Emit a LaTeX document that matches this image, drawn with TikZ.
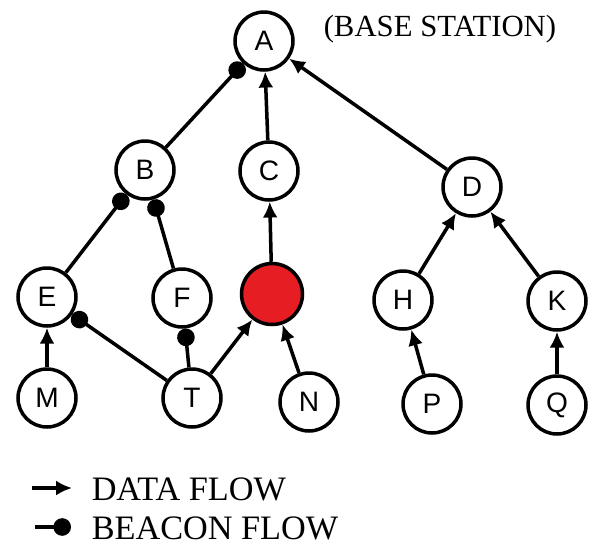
\documentclass[tikz,border=0pt]{standalone}
\usepackage{fontspec}
\setmainfont{Liberation Serif}
\newfontfamily\nodefont{Liberation Sans}
\usetikzlibrary{arrows.meta}
\tikzstyle{every path}=[line width=2pt]
\tikzstyle{station} = [circle, draw, minimum size=1.16cm, inner sep=0pt, font=\nodefont\fontsize{16}{18}\selectfont]
\tikzstyle{data} = [-{Latex[length=9pt,width=8.5pt]}]
\tikzstyle{beacon} = [-{Circle[length=10pt]}]
\tikzstyle{legendtext} = [anchor=west, inner sep=0pt, font=\fontsize{19.5}{22}\selectfont]
\definecolor{intruder}{RGB}{230,30,36}

\begin{document}
\begin{tikzpicture}[x=0.02cm, y=-0.02cm]
            \useasboundingbox (0,0) rectangle (592,545);

            \node[station] (A) at (264, 41) {A};
            \node[anchor=west, inner sep=0pt, font=\fontsize{17.5}{20}\selectfont] (base) at (322, 29) {(BASE STATION)};

            \node[station] (B) at (145, 170) {B};
            \node[station] (C) at (269, 171) {C};
            \node[station] (D) at (472, 187) {D};

            \node[station] (E) at (47, 297) {E};
            \node[station] (F) at (182, 298) {F};
            \node[station, fill=intruder, minimum size=1.22cm] (X) at (272, 294) {};
            \node[station] (H) at (403, 300) {H};
            \node[station] (K) at (557, 301) {K};

            \node[station] (M) at (47, 398) {M};
            \node[station] (T) at (192, 398) {T};
            \node[station] (N) at (309, 402) {N};
            \node[station] (P) at (432, 404) {P};
            \node[station] (Q) at (557, 405) {Q};

            \draw[beacon] (B) -- (A);
            \draw[data] (C) -- (A);
            \draw[data] (D) -- (A);
            \draw[beacon] (E) -- (B);
            \draw[beacon] (F) -- (B);
            \draw[data] (X) -- (C);
            \draw[data] (H) -- (D);
            \draw[data] (K) -- (D);
            \draw[data] (M) -- (E);
            \draw[beacon] (T) -- (E);
            \draw[beacon] (T) -- (F);
            \draw[data] (T) -- (X);
            \draw[data] (N) -- (X);
            \draw[data] (P) -- (H);
            \draw[data] (Q) -- (K);

            \coordinate (d1) at (32, 488);
            \coordinate (d2) at (72, 488);
            \draw[data] (d1) -- (d2);
            \node[legendtext] (datalabel) at (90, 489) {DATA FLOW};
            \coordinate (b1) at (35, 527);
            \coordinate (b2) at (71, 527);
            \draw[beacon] (b1) -- (b2);
            \node[legendtext] (beaconlabel) at (90, 528) {BEACON FLOW};
        \end{tikzpicture}
\end{document}
